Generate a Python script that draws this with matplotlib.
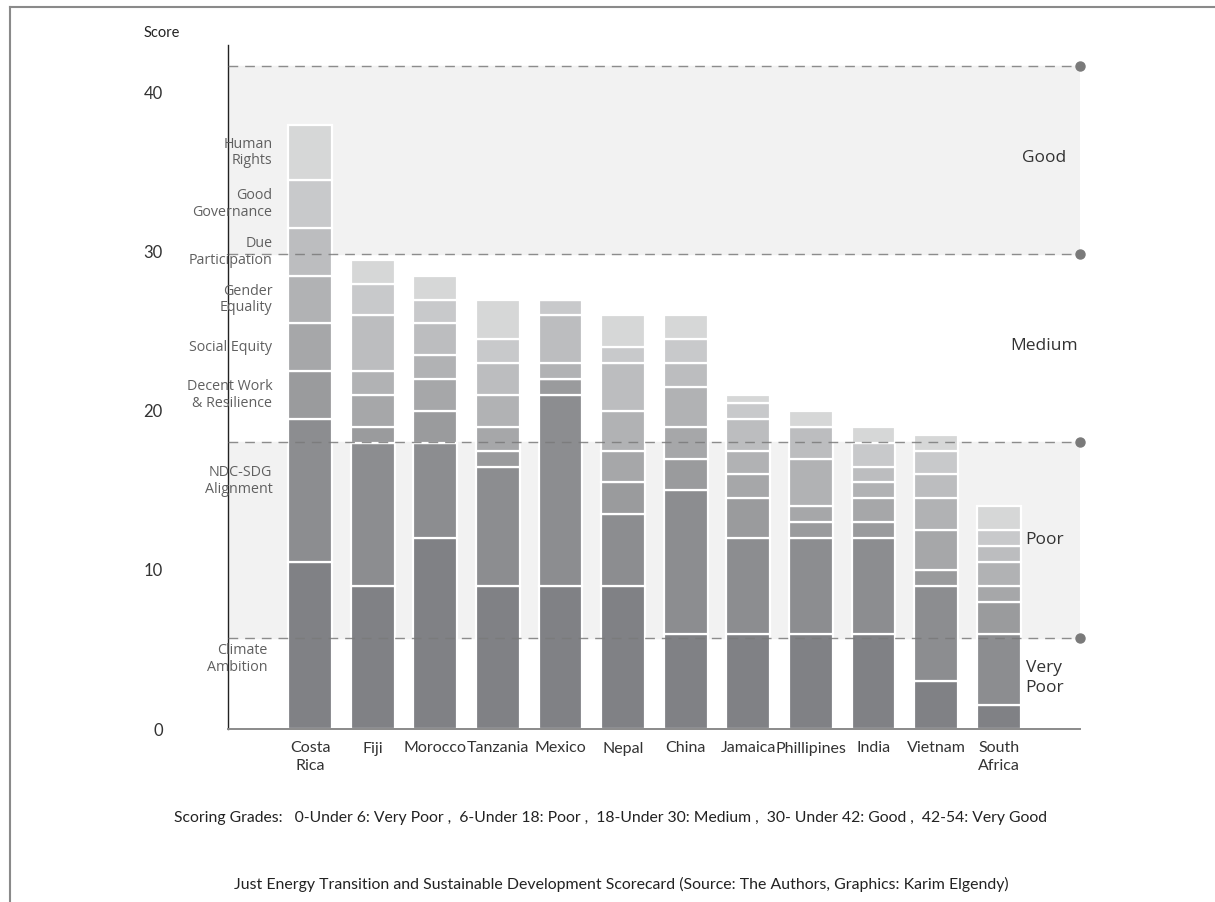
import matplotlib
matplotlib.use('Agg')
import matplotlib.pyplot as plt
from matplotlib.lines import Line2D
import numpy as np

plt.rcParams['font.family'] = ['Lato', 'DejaVu Sans']

# Countries (x axis) and the eight scorecard components, bottom to top
countries = ['Costa\nRica', 'Fiji', 'Morocco', 'Tanzania', 'Mexico', 'Nepal', 'China',
             'Jamaica', 'Phillipines', 'India', 'Vietnam', 'South\nAfrica']
components = ['Climate\nAmbition', 'NDC-SDG\nAlignment', 'Decent Work\n& Resilience', 'Social Equity',
              'Gender\nEquality', 'Due\nParticipation', 'Good\nGovernance', 'Human\nRights']

# Scores per component, one list per component, in country order
climate_ambition = [10.5, 9, 12, 9, 9, 9, 6, 6, 6, 6, 3, 1.5]
ndc_sdg = [9, 9, 6, 7.5, 12, 4.5, 9, 6, 6, 6, 6, 4.5]
decent_work = [3, 1, 2, 1, 1, 2, 2, 2.5, 1, 1, 1, 2]
social_equity = [3, 2, 2, 1.5, 0, 2, 2, 1.5, 1, 1.5, 2.5, 1]
gender_equality = [3, 1.5, 1.5, 2, 1, 2.5, 2.5, 1.5, 3, 1, 2, 1.5]
due_participation = [3, 3.5, 2, 2, 3, 3, 1.5, 2, 2, 1, 1.5, 1]
good_governance = [3, 2, 1.5, 1.5, 1, 1, 1.5, 1, 0, 1.5, 1.5, 1]
human_rights = [3.5, 1.5, 1.5, 2.5, 0, 2, 1.5, 0.5, 1, 1, 1, 1.5]

# Grade boundaries as drawn (dashed lines) and grade names
grade_lines = [5.75, 18.05, 29.85, 41.7]
grade_names = ['Very\nPoor', 'Poor', 'Medium', 'Good']
grade_label_y = [3.2, 11.9, 24.1, 35.9]

seg_colors = ['#808185', '#8c8d90', '#9a9b9d', '#a6a7a9', '#b1b2b4', '#bcbdbf', '#c8c9cb', '#d6d7d7']

fig = plt.figure(figsize=(12.15, 9.02), dpi=100)
ax = fig.add_axes([228/1215, 1 - 729/902, (1080 - 228)/1215, (729 - 45)/902])

x = np.arange(len(countries))
x_lo, x_hi = -1.31, 12.3

# light grey bands for Poor and Good
ax.axhspan(grade_lines[0], grade_lines[1], color='#f2f2f2', zorder=0)
ax.axhspan(grade_lines[2], grade_lines[3], color='#f2f2f2', zorder=0)

series = [climate_ambition, ndc_sdg, decent_work, social_equity,
          gender_equality, due_participation, good_governance, human_rights]
bottom = np.zeros(len(countries))
for vals, col in zip(series, seg_colors):
    vals = np.array(vals, dtype=float)
    ax.bar(x, vals, bottom=bottom, width=0.70, color=col,
           edgecolor='white', linewidth=1.6, zorder=2)
    bottom += vals

# component labels to the left of the first bar, beside Costa Rica's segments
cr = np.array([s[0] for s in series], dtype=float)
cr_mid = np.cumsum(cr) - cr / 2
nudge = [-0.85, 0.6, 0, 0, 0, 0, 0, 0]
for i, name in enumerate(components):
    xr = -0.68 if i == 0 else -0.6
    ax.text(xr, cr_mid[i] + nudge[i], name, ha='right', va='center',
            fontsize=10.3, color='#606060', family=['Open Sans', 'DejaVu Sans'],
            linespacing=1.15, zorder=4)

# dashed grade lines with end dots
for g in grade_lines:
    ax.plot([x_lo, x_hi], [g, g], color='#7a7a7a', linestyle=(0, (7, 5)),
            linewidth=1.0, alpha=0.85, zorder=3)
    ax.plot(x_hi, g, 'o', color='#7a7a7a', markersize=6.5, zorder=3, clip_on=False)

for name, gy in zip(grade_names, grade_label_y):
    ax.text(11.73, gy, name, ha='center', va='center', fontsize=12.5,
            color='#333333', family=['Open Sans', 'DejaVu Sans'], linespacing=1.3)

ax.set_xlim(x_lo, x_hi)
ax.set_ylim(0, 43)
ax.set_xticks(x)
ax.set_xticklabels(countries, fontsize=11.5, color='#333333', linespacing=1.35)
ax.set_yticks([0, 10, 20, 30, 40])
ax.set_yticklabels(['0', '10', '20', '30', '40'], fontsize=12, color='#333333')
ax.tick_params(axis='x', length=0, pad=9)
ax.tick_params(axis='y', length=0, pad=47)

for s in ['top', 'right']:
    ax.spines[s].set_visible(False)
ax.spines['left'].set_color('#222222')
ax.spines['left'].set_linewidth(1.0)
ax.spines['bottom'].set_color('#8a8a8a')
ax.spines['bottom'].set_linewidth(1.4)

fig.text(162/1215, 1 - 33/902, 'Score', ha='center', va='center', fontsize=10.5, color='#222222')

fig.text(611/1215, 1 - 818/902,
         'Scoring Grades:   0-Under 6: Very Poor ,  6-Under 18: Poor ,  18-Under 30: Medium ,  '
         '30- Under 42: Good ,  42-54: Very Good',
         ha='center', va='center', fontsize=11.3, color='#222222')
fig.text(621/1215, 1 - 884/902,
         'Just Energy Transition and Sustainable Development Scorecard '
         '(Source: The Authors, Graphics: Karim Elgendy)',
         ha='center', va='center', fontsize=11.4, color='#222222')

# outer frame (top and left edges only)
fig.add_artist(Line2D([10/1215, 1], [1 - 7/902, 1 - 7/902], transform=fig.transFigure,
                      color='#8a8a8a', linewidth=1.5))
fig.add_artist(Line2D([10/1215, 10/1215], [0, 1 - 7/902], transform=fig.transFigure,
                      color='#8a8a8a', linewidth=1.5))

fig.savefig('out.png', dpi=100)
